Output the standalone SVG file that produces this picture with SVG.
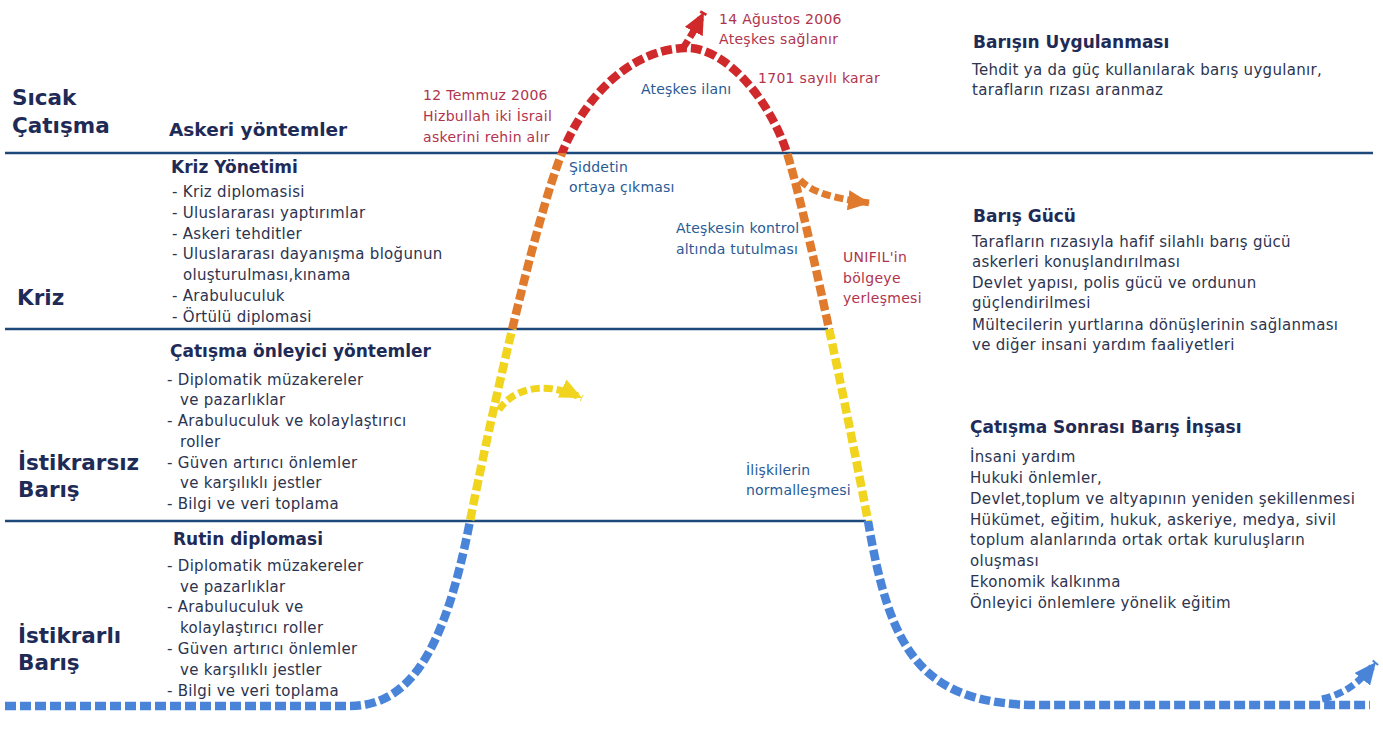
<svg xmlns="http://www.w3.org/2000/svg" width="1383" height="740" viewBox="0 0 1383 740">
<style>
text{font-family:"DejaVu Sans",Verdana,sans-serif}
.lbl{font-size:21.5px;font-weight:bold;fill:#1f2b57}
.hd{font-size:17px;font-weight:bold;fill:#1f2b57}
.hd2{font-size:18.5px;font-weight:bold;fill:#1f2b57}
.it{font-size:15px;fill:#2c3450;letter-spacing:0.3px}
.red{font-size:14px;fill:#b0344e;letter-spacing:0.3px}
.blu{font-size:14px;fill:#2a5a95;letter-spacing:0.2px}
.div{stroke:#1d4a7a;stroke-width:2.5;fill:none}
.curve{fill:none;stroke-width:8.5;stroke-dasharray:11 4}
.br{fill:none;stroke-width:7;stroke-dasharray:9 4}
</style>
<defs>
<path id="main" d="M5,706 L350,706 C410,706 445,650 470,521 C490,420 535,220 562,153 C585,96 630,50 685,48 C725,46 770,100 787,153 C805,210 845,400 868,521 C890,650 920,705 1040,705 L1370,705"/>
<clipPath id="cRed"><rect x="0" y="0" width="1383" height="153"/></clipPath>
<clipPath id="cOr"><rect x="0" y="153" width="1383" height="176"/></clipPath>
<clipPath id="cYe"><rect x="0" y="329" width="1383" height="192"/></clipPath>
<clipPath id="cBl"><rect x="0" y="521" width="1383" height="219"/></clipPath>
<marker id="mRed" markerUnits="userSpaceOnUse" markerWidth="24" markerHeight="20" refX="22" refY="10" orient="auto"><path d="M0,0 L22,10 L0,20 z" fill="#d0292b"/></marker>
<marker id="mOr" markerUnits="userSpaceOnUse" markerWidth="24" markerHeight="20" refX="22" refY="10" orient="auto"><path d="M0,0 L22,10 L0,20 z" fill="#e07a2d"/></marker>
<marker id="mYe" markerUnits="userSpaceOnUse" markerWidth="24" markerHeight="20" refX="22" refY="10" orient="auto"><path d="M0,0 L22,10 L0,20 z" fill="#f0d41e"/></marker>
<marker id="mBl" markerUnits="userSpaceOnUse" markerWidth="24" markerHeight="20" refX="22" refY="10" orient="auto"><path d="M0,0 L22,10 L0,20 z" fill="#4a84d8"/></marker>
</defs>
<rect width="1383" height="740" fill="#ffffff"/>

<g id="dividers">
<line class="div" x1="5" y1="153" x2="1373" y2="153"/>
<line class="div" x1="5" y1="329" x2="828" y2="329"/>
<line class="div" x1="5" y1="521" x2="866" y2="521"/>
</g>

<g id="connectors">
<use href="#main" class="curve" stroke="#d0292b" clip-path="url(#cRed)"/>
<use href="#main" class="curve" stroke="#e07a2d" clip-path="url(#cOr)"/>
<use href="#main" class="curve" stroke="#f0d41e" clip-path="url(#cYe)"/>
<use href="#main" class="curve" stroke="#4a84d8" clip-path="url(#cBl)"/>
<path class="br" stroke="#d0292b" d="M683,48 Q692,35 704,12" marker-end="url(#mRed)"/>
<path class="br" stroke="#e07a2d" d="M800,180 C812,192 830,198 870,203" marker-end="url(#mOr)"/>
<path class="br" stroke="#f0d41e" d="M499,410 C510,392 540,378 582,398" marker-end="url(#mYe)"/>
<path class="br" stroke="#4a84d8" d="M1322,699 C1345,694 1360,682 1376,662" marker-end="url(#mBl)"/>
</g>

<g id="level-sicak-catisma"><text class="lbl" x="12" y="105">Sıcak</text><text class="lbl" x="12" y="133">Çatışma</text></g>
<g id="level-kriz"><text class="lbl" x="17" y="305">Kriz</text></g>
<g id="level-istikrarsiz"><text class="lbl" x="18" y="470">İstikrarsız</text><text class="lbl" x="18" y="497">Barış</text></g>
<g id="level-istikrarli"><text class="lbl" x="18" y="643">İstikrarlı</text><text class="lbl" x="18" y="670">Barış</text></g>

<g id="askeri-yontemler"><text class="hd2" x="169" y="136">Askeri yöntemler</text></g>

<g id="kriz-yonetimi">
<text class="hd" x="171" y="173">Kriz Yönetimi</text>
<text class="it" x="172" y="197">- Kriz diplomasisi</text>
<text class="it" x="172" y="218">- Uluslararası yaptırımlar</text>
<text class="it" x="172" y="239">- Askeri tehditler</text>
<text class="it" x="172" y="259">- Uluslararası dayanışma bloğunun</text>
<text class="it" x="183" y="280">oluşturulması,kınama</text>
<text class="it" x="172" y="301">- Arabuluculuk</text>
<text class="it" x="172" y="322">- Örtülü diplomasi</text>
</g>

<g id="catisma-onleyici">
<text class="hd" x="170" y="357">Çatışma önleyici yöntemler</text>
<text class="it" x="167" y="385">- Diplomatik müzakereler</text>
<text class="it" x="180" y="405">ve pazarlıklar</text>
<text class="it" x="167" y="426">- Arabuluculuk ve kolaylaştırıcı</text>
<text class="it" x="180" y="447">roller</text>
<text class="it" x="167" y="468">- Güven artırıcı önlemler</text>
<text class="it" x="180" y="488">ve karşılıklı jestler</text>
<text class="it" x="167" y="509">- Bilgi ve veri toplama</text>
</g>

<g id="rutin-diplomasi">
<text class="hd" x="173" y="545">Rutin diplomasi</text>
<text class="it" x="167" y="571">- Diplomatik müzakereler</text>
<text class="it" x="180" y="592">ve pazarlıklar</text>
<text class="it" x="167" y="612">- Arabuluculuk ve</text>
<text class="it" x="180" y="633">kolaylaştırıcı roller</text>
<text class="it" x="167" y="654">- Güven artırıcı önlemler</text>
<text class="it" x="180" y="675">ve karşılıklı jestler</text>
<text class="it" x="167" y="696">- Bilgi ve veri toplama</text>
</g>

<g id="barisin-uygulanmasi">
<text class="hd" x="973" y="48">Barışın Uygulanması</text>
<text class="it" x="972" y="75">Tehdit ya da güç kullanılarak barış uygulanır,</text>
<text class="it" x="972" y="95">tarafların rızası aranmaz</text>
</g>

<g id="baris-gucu">
<text class="hd" x="973" y="222">Barış Gücü</text>
<text class="it" x="972" y="247">Tarafların rızasıyla hafif silahlı barış gücü</text>
<text class="it" x="972" y="267">askerleri konuşlandırılması</text>
<text class="it" x="972" y="288">Devlet yapısı, polis gücü ve ordunun</text>
<text class="it" x="972" y="308">güçlendirilmesi</text>
<text class="it" x="972" y="330">Mültecilerin yurtlarına dönüşlerinin sağlanması</text>
<text class="it" x="972" y="350">ve diğer insani yardım faaliyetleri</text>
</g>

<g id="catisma-sonrasi">
<text class="hd" x="970" y="433">Çatışma Sonrası Barış İnşası</text>
<text class="it" x="970" y="462">İnsani yardım</text>
<text class="it" x="970" y="483">Hukuki önlemler,</text>
<text class="it" x="970" y="504">Devlet,toplum ve altyapının yeniden şekillenmesi</text>
<text class="it" x="970" y="525">Hükümet, eğitim, hukuk, askeriye, medya, sivil</text>
<text class="it" x="970" y="545">toplum alanlarında ortak ortak kuruluşların</text>
<text class="it" x="970" y="566">oluşması</text>
<text class="it" x="970" y="587">Ekonomik kalkınma</text>
<text class="it" x="970" y="608">Önleyici önlemlere yönelik eğitim</text>
</g>

<g id="event-12-temmuz">
<text class="red" x="423" y="100">12 Temmuz 2006</text>
<text class="red" x="423" y="121">Hizbullah iki İsrail</text>
<text class="red" x="423" y="142">askerini rehin alır</text>
</g>
<g id="event-14-agustos">
<text class="red" x="719" y="24">14 Ağustos 2006</text>
<text class="red" x="719" y="44">Ateşkes sağlanır</text>
</g>
<g id="event-1701"><text class="red" x="758" y="83">1701 sayılı karar</text></g>
<g id="event-unifil">
<text class="red" x="843" y="262">UNIFIL'in</text>
<text class="red" x="843" y="283">bölgeye</text>
<text class="red" x="843" y="303">yerleşmesi</text>
</g>

<g id="stage-ateskes-ilani"><text class="blu" x="641" y="94">Ateşkes ilanı</text></g>
<g id="stage-siddetin"><text class="blu" x="569" y="172">Şiddetin</text><text class="blu" x="569" y="192">ortaya çıkması</text></g>
<g id="stage-ateskesin-kontrol"><text class="blu" x="676" y="233">Ateşkesin kontrol</text><text class="blu" x="676" y="254">altında tutulması</text></g>
<g id="stage-iliskilerin"><text class="blu" x="746" y="475">İlişkilerin</text><text class="blu" x="746" y="495">normalleşmesi</text></g>
</svg>
